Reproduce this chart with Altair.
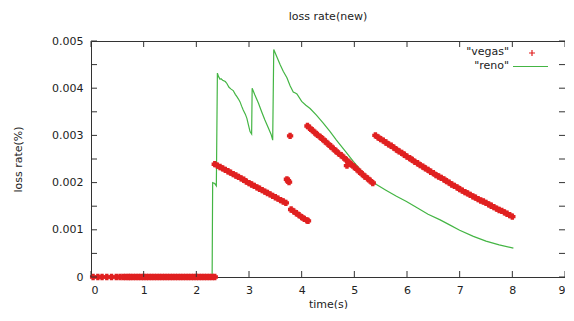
import altair as alt
import pandas as pd

FONT = "DejaVu Sans"

# ---- vegas (points) ----
vegas_zero_t = [0.04, 0.13, 0.21, 0.30, 0.39, 0.48, 0.55, 0.61, 0.66, 0.71,
                0.75, 0.80, 0.85, 0.90, 0.95, 1.00, 1.05, 1.10, 1.15, 1.20,
                1.25, 1.30, 1.35, 1.40, 1.45, 1.50, 1.55, 1.60, 1.65, 1.70,
                1.75, 1.80, 1.85, 1.90, 1.95, 2.00, 2.05, 2.10, 2.15, 2.20,
                2.25, 2.30, 2.35]

segA_t = [2.35, 2.40, 2.45, 2.50, 2.55, 2.60, 2.65, 2.70, 2.75, 2.80, 2.85, 2.90,
          2.95, 3.00, 3.05, 3.10, 3.15, 3.20, 3.25, 3.30, 3.35, 3.40, 3.45, 3.50,
          3.55, 3.60, 3.65, 3.70]
segA_v = [0.00239, 0.00236, 0.00233, 0.00230, 0.00227, 0.00224, 0.00221, 0.00218,
          0.00215, 0.00212, 0.00209, 0.00206, 0.00202, 0.00199, 0.00196, 0.00193,
          0.00190, 0.00187, 0.00184, 0.00181, 0.00178, 0.00175, 0.00172, 0.00169,
          0.00166, 0.00163, 0.00160, 0.00157]

segB_t = [3.72, 3.74, 3.76, 3.78, 3.80, 3.85, 3.90, 3.95, 4.00, 4.05, 4.10, 4.12]
segB_v = [0.00207, 0.00204, 0.00201, 0.00299, 0.00143, 0.00139, 0.00135, 0.00131,
          0.00127, 0.00123, 0.00120, 0.00119]

segC_t = [4.11, 4.15, 4.20, 4.25, 4.30, 4.35, 4.40, 4.45, 4.50, 4.55, 4.60, 4.65,
          4.70, 4.75, 4.80, 4.85, 4.86, 4.90, 4.95, 5.00, 5.05, 5.10, 5.15, 5.20,
          5.25, 5.30, 5.35]
segC_v = [0.00320, 0.00316, 0.00311, 0.00306, 0.00301, 0.00297, 0.00292, 0.00287,
          0.00282, 0.00277, 0.00272, 0.00267, 0.00262, 0.00258, 0.00253, 0.00248,
          0.00236, 0.00243, 0.00238, 0.00233, 0.00228, 0.00223, 0.00218, 0.00213,
          0.00209, 0.00204, 0.00199]

segD_t = [5.40, 5.45, 5.50, 5.55, 5.60, 5.65, 5.70, 5.75, 5.80, 5.85, 5.90, 5.95,
          6.00, 6.05, 6.10, 6.15, 6.20, 6.25, 6.30, 6.35, 6.40, 6.45, 6.50, 6.55,
          6.60, 6.65, 6.70, 6.75, 6.80, 6.85, 6.90, 6.95, 7.00, 7.05, 7.10, 7.15,
          7.20, 7.25, 7.30, 7.35, 7.40, 7.45, 7.50, 7.55, 7.60, 7.65, 7.70, 7.75,
          7.80, 7.85, 7.90, 7.95, 8.00]
segD_v = [0.00300, 0.00296, 0.00292, 0.00289, 0.00285, 0.00281, 0.00278, 0.00274,
          0.00270, 0.00266, 0.00263, 0.00259, 0.00255, 0.00252, 0.00248, 0.00244,
          0.00241, 0.00237, 0.00234, 0.00230, 0.00227, 0.00223, 0.00220, 0.00216,
          0.00213, 0.00210, 0.00207, 0.00203, 0.00200, 0.00196, 0.00193, 0.00190,
          0.00186, 0.00183, 0.00180, 0.00177, 0.00174, 0.00171, 0.00168, 0.00165,
          0.00162, 0.00160, 0.00157, 0.00154, 0.00151, 0.00148, 0.00145, 0.00142,
          0.00140, 0.00137, 0.00134, 0.00131, 0.00128]

# ---- reno (line) ----
reno_t = [0.00, 2.30, 2.31, 2.35, 2.38, 2.40, 2.42, 2.45, 2.47, 2.50, 2.55, 2.58,
          2.62, 2.66, 2.70, 2.74, 2.77, 2.80, 2.83, 2.86, 2.89, 2.93, 2.96, 2.99,
          3.02, 3.05, 3.06, 3.11, 3.18, 3.24, 3.30, 3.37, 3.42, 3.45, 3.47, 3.53,
          3.59, 3.65, 3.72, 3.78, 3.84, 3.88, 3.91, 4.00, 4.08, 4.16, 4.28, 4.41,
          4.54, 4.66, 4.82, 4.98, 5.11, 5.25, 5.42, 5.60, 5.80, 5.99, 6.20, 6.40,
          6.63, 6.80, 7.00, 7.26, 7.50, 7.75, 8.02]
reno_v = [0.0, 0.0, 0.00200, 0.00198, 0.00193, 0.00432, 0.00425, 0.00419, 0.00420,
          0.00417, 0.00414, 0.00410, 0.00402, 0.00398, 0.00395, 0.00387, 0.00382,
          0.00377, 0.00371, 0.00362, 0.00354, 0.00345, 0.00336, 0.00322, 0.00308,
          0.00303, 0.00400, 0.00386, 0.00368, 0.00350, 0.00333, 0.00315, 0.00302,
          0.00290, 0.00482, 0.00466, 0.00450, 0.00436, 0.00422, 0.00405, 0.00392,
          0.00390, 0.00388, 0.00372, 0.00364, 0.00357, 0.00343, 0.00326, 0.00308,
          0.00290, 0.00268, 0.00245, 0.00228, 0.00211, 0.00196, 0.00184, 0.00171,
          0.00160, 0.00146, 0.00133, 0.00121, 0.00111, 0.00099, 0.00086, 0.00076,
          0.00068, 0.00061]

x_ticks = [0, 1, 2, 3, 4, 5, 6, 7, 8, 9]
y_ticks = [0, 0.0005, 0.001, 0.0015, 0.002, 0.0025, 0.003, 0.0035, 0.004, 0.0045, 0.005]

RED = "#e02020"
GREEN = "#44b544"
W, H = 474, 236

vegas_t = vegas_zero_t + segA_t + segB_t + segC_t + segD_t
vegas_v = [0.0] * len(vegas_zero_t) + segA_v + segB_v + segC_v + segD_v
vegas_df = pd.DataFrame({"t": vegas_t, "v": vegas_v})
reno_df = pd.DataFrame({"t": reno_t, "v": reno_v, "i": list(range(len(reno_t)))})

xs = alt.Scale(domain=[0, 9], nice=False, zero=False)
ys = alt.Scale(domain=[0, 0.005], nice=False)

x_axis = alt.Axis(values=x_ticks, tickSize=0, domain=False, grid=False,
                  labelPadding=7, labelOverlap=False, title="time(s)", titlePadding=3)
y_axis = alt.Axis(values=y_ticks, tickSize=0, domain=False, grid=False,
                  labelPadding=8, labelOverlap=False, labelExpr="toString(datum.value)",
                  title="loss rate(%)", titleX=-73, titleY=H / 2,
                  titleAlign="center", titleBaseline="middle")

PLUS = "M-1,0L1,0M0,-1L0,1"

reno = alt.Chart(reno_df).mark_line(color=GREEN, strokeWidth=1.2, clip=True).encode(
    x=alt.X("t:Q", scale=xs, axis=x_axis),
    y=alt.Y("v:Q", scale=ys, axis=y_axis),
    order=alt.Order("i:Q"),
)

vegas = alt.Chart(vegas_df).mark_point(shape=PLUS, filled=False, color=RED,
                                       strokeWidth=3.4, size=40, opacity=1).encode(
    x=alt.X("t:Q", scale=xs),
    y=alt.Y("v:Q", scale=ys),
)

xt_df = pd.DataFrame({"t": x_ticks})
yt_df = pd.DataFrame({"v": y_ticks})
TC = "#333333"
xt_bot = alt.Chart(xt_df).mark_rule(color=TC, strokeWidth=1).encode(
    x=alt.X("t:Q", scale=xs), y=alt.value(H), y2=alt.value(H - 6))
xt_top = alt.Chart(xt_df).mark_rule(color=TC, strokeWidth=1).encode(
    x=alt.X("t:Q", scale=xs), y=alt.value(0), y2=alt.value(6))
yt_left = alt.Chart(yt_df).mark_rule(color=TC, strokeWidth=1).encode(
    y=alt.Y("v:Q", scale=ys), x=alt.value(0), x2=alt.value(6))
yt_right = alt.Chart(yt_df).mark_rule(color=TC, strokeWidth=1).encode(
    y=alt.Y("v:Q", scale=ys), x=alt.value(W), x2=alt.value(W - 6))

one = alt.Data(values=[{}])
leg_vegas_txt = alt.Chart(one).mark_text(align="right", baseline="middle", font=FONT,
                                         fontSize=11, color="#222").encode(
    x=alt.value(418), y=alt.value(11), text=alt.value('"vegas"'))
leg_reno_txt = alt.Chart(one).mark_text(align="right", baseline="middle", font=FONT,
                                        fontSize=11, color="#222").encode(
    x=alt.value(418), y=alt.value(25), text=alt.value('"reno"'))
leg_vegas_sym = alt.Chart(one).mark_point(shape=PLUS, filled=False, color=RED,
                                          strokeWidth=1.2, size=36, opacity=1).encode(
    x=alt.value(441), y=alt.value(12))
leg_reno_line = alt.Chart(one).mark_rule(color=GREEN, strokeWidth=1.2).encode(
    x=alt.value(422), x2=alt.value(457), y=alt.value(25.5))

chart = alt.layer(
    reno, vegas, xt_bot, xt_top, yt_left, yt_right,
    leg_vegas_txt, leg_reno_txt, leg_vegas_sym, leg_reno_line,
).properties(
    width=W, height=H,
    title=alt.TitleParams("loss rate(new)", font=FONT, fontSize=11,
                          fontWeight="normal", color="#222", offset=13, anchor="middle"),
    autosize=alt.AutoSizeParams(type="none"),
    padding={"left": 83, "top": 33, "right": 0, "bottom": 32},
    background="white",
).configure_view(
    stroke="#333333", strokeWidth=1
).configure_axis(
    labelFont=FONT, labelFontSize=11, labelColor="#222",
    titleFont=FONT, titleFontSize=11, titleFontWeight="normal", titleColor="#222",
)

chart.save("out.html", embed_options={"renderer": "svg", "actions": False})
